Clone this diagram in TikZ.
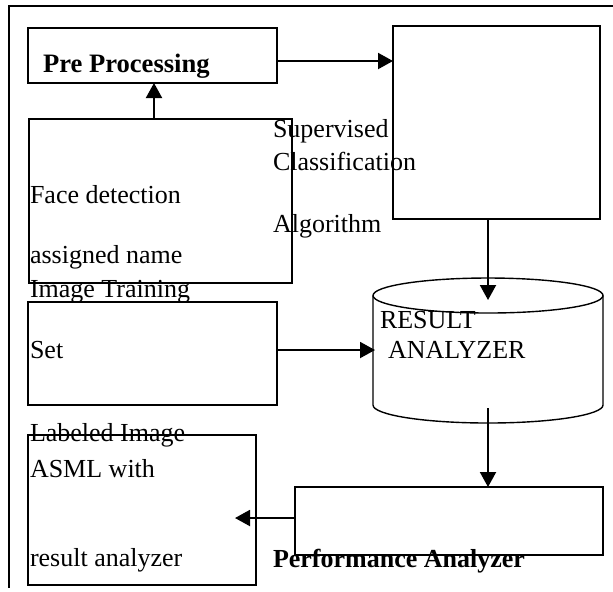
\documentclass[tikz,border=0pt]{standalone}
\usepackage{fontspec}
\setmainfont{Liberation Serif}
\usetikzlibrary{calc}
\usetikzlibrary{arrows.meta}

\begin{document}
\begin{tikzpicture}[x=0.5pt,y=-0.5pt,inner sep=0pt,outer sep=0pt,
  font=\fontsize{13}{15}\selectfont,
  box/.style={draw,line width=0.7pt},
  arr/.style={line width=1pt,-{Triangle[length=7.5pt,width=8pt]}},
  lbl/.style={anchor=base west}]
\useasboundingbox (0,0) rectangle (613,591);
\draw[line width=1.3pt] (613,6) -- (9,6) -- (9,588);

\node[box,minimum width=124.5pt,minimum height=27.5pt] (pre) at (152.5,55.5) {};
\node[box,minimum width=131.5pt,minimum height=82pt] (face) at (160.5,201) {};
\node[box,minimum width=103.5pt,minimum height=96.5pt] (algo) at (496.5,122.5) {};
\node[box,minimum width=124.5pt,minimum height=51.5pt] (train) at (152.5,353.5) {};
\node[box,minimum width=154pt,minimum height=34pt] (perf) at (449,521) {};
\node[box,minimum width=114pt,minimum height=75pt] (lab) at (142,510) {};

% result store
\draw[box] (488,295.5) ellipse [x radius=115,y radius=17.5];
\draw[box] (373,295.5) -- (373,405) arc[start angle=180,end angle=0,x radius=115,y radius=18] -- (603,295.5);
\coordinate (restop) at (488,300);
\coordinate (resleft) at (375,350);
\coordinate (resbot) at (488,408);
\coordinate (labin) at (235,518);
\coordinate (pa) at ($(pre.east)+(0,5.5)$);

\node[lbl,font=\fontsize{13.3}{15}\selectfont\bfseries] (tpre) at (43,72) {Pre Processing};
\node[lbl] (tface) at (30,203) {Face detection};
\node[lbl] (tname) at (30,263) {assigned name};
\node[lbl] (ttrain) at (30,297) {Image Training};
\node[lbl] (tset) at (30,358) {Set};
\node[lbl] (tsup) at (273,137) {Supervised};
\node[lbl] (tcls) at (273,170) {Classification};
\node[lbl] (talg) at (273,232) {Algorithm};
\node[lbl] (tres) at (380,328) {RESULT};
\node[lbl] (tana) at (388,358) {ANALYZER};
\node[lbl] (tlab) at (30,441) {Labeled Image};
\node[lbl] (tasml) at (30,477) {ASML with};
\node[lbl] (tra) at (30,566) {result analyzer};
\node[lbl,font=\fontsize{13}{15}\selectfont\bfseries] (tperf) at (273,567) {Performance Analyzer};

\draw[arr] ([xshift=-3.25pt]face.north) -- ([xshift=-3.25pt]face.north |- pre.south);
\draw[arr] (pa) -- (pa -| algo.west);
\draw[arr] (algo.south -| restop) -- (restop);
\draw[arr] (train.east |- resleft) -- (resleft);
\draw[arr] (resbot) -- (resbot |- perf.north);
\draw[arr] (perf.west |- labin) -- (labin);
\end{tikzpicture}
\end{document}
